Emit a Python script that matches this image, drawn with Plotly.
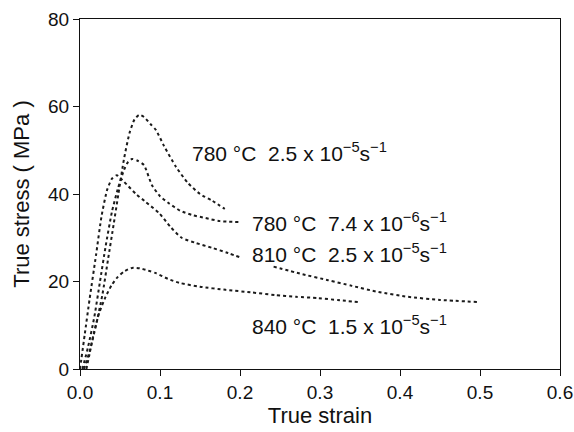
import plotly.graph_objects as go

# Curve data (true strain, true stress MPa)
c1_x = [0.005, 0.012, 0.02, 0.028, 0.035, 0.042, 0.048, 0.055, 0.062, 0.068, 0.074, 0.08, 0.088, 0.095, 0.105, 0.12, 0.135, 0.15, 0.165, 0.181]
c1_y = [0.0, 4.0, 10.0, 17.0, 25.0, 33.0, 40.0, 48.0, 54.0, 57.0, 58.1, 57.6, 56.0, 54.6, 51.0, 46.2, 42.5, 40.0, 38.5, 36.6]

c2_x = [0.003, 0.01, 0.018, 0.025, 0.032, 0.04, 0.047, 0.055, 0.06, 0.065, 0.072, 0.08, 0.09, 0.1, 0.111, 0.125, 0.14, 0.157, 0.175, 0.198]
c2_y = [0.0, 5.0, 12.0, 20.0, 28.0, 36.0, 41.0, 45.5, 47.3, 48.0, 47.6, 46.6, 42.0, 39.5, 37.9, 36.2, 35.2, 34.5, 33.8, 33.6]

c3_x = [0.0, 0.006, 0.012, 0.02, 0.027, 0.034, 0.04, 0.046, 0.055, 0.07, 0.082, 0.099, 0.113, 0.127, 0.145, 0.165, 0.185, 0.202, None, 0.242, 0.275, 0.31, 0.34, 0.373, 0.41, 0.45, 0.497]
c3_y = [0.0, 8.0, 16.0, 26.0, 35.0, 41.0, 43.5, 44.3, 42.8, 40.0, 38.2, 35.6, 32.5, 30.0, 28.8, 27.7, 26.5, 25.4, None, 23.4, 21.8, 20.3, 19.0, 17.6, 16.5, 15.8, 15.3]

c4_x = [0.008, 0.012, 0.017, 0.024, 0.032, 0.04, 0.047, 0.055, 0.065, 0.075, 0.085, 0.095, 0.11, 0.124, 0.15, 0.182, 0.215, 0.244, 0.27, 0.298, 0.325, 0.348]
c4_y = [0.0, 3.5, 8.0, 12.8, 16.5, 19.3, 21.0, 22.3, 23.1, 23.0, 22.5, 21.9, 20.6, 19.7, 18.8, 18.1, 17.5, 16.9, 16.5, 16.2, 15.7, 15.3]

series = [(c1_x, c1_y), (c2_x, c2_y), (c3_x, c3_y), (c4_x, c4_y)]

labels = [
    "780 °C  2.5 x 10<sup>−5</sup>s<sup>−1</sup>",
    "780 °C  7.4 x 10<sup>−6</sup>s<sup>−1</sup>",
    "810 °C  2.5 x 10<sup>−5</sup>s<sup>−1</sup>",
    "840 °C  1.5 x 10<sup>−5</sup>s<sup>−1</sup>",
]
label_x = [0.137, 0.212, 0.212, 0.212]
label_y = [49.6, 33.6, 26.5, 10.0]

x_ticks = [0, 0.1, 0.2, 0.3, 0.4, 0.5, 0.6]
x_ticktext = ["0.0", "0.1", "0.2", "0.3", "0.4", "0.5", "0.6"]
y_ticks = [0, 20, 40, 60, 80]

fig = go.Figure()
for xs, ys in series:
    fig.add_trace(go.Scatter(x=xs, y=ys, mode="lines",
                             line=dict(color="#1a1a1a", width=2, dash="dot", shape="spline", smoothing=0.6),
                             connectgaps=False, showlegend=False))

for t, lx, ly in zip(labels, label_x, label_y):
    fig.add_annotation(x=lx, y=ly, text=t, showarrow=False, xanchor="left", yanchor="middle",
                       font=dict(size=21, color="#111111"))

axis_common = dict(showline=True, linecolor="#111111", linewidth=1.2, mirror=True, ticks="outside",
                   ticklen=6, tickcolor="#111111", showgrid=False, zeroline=False, automargin=False,
                   tickfont=dict(size=19, color="#111111"))

fig.update_xaxes(range=[0, 0.6], tickvals=x_ticks, ticktext=x_ticktext,
                 title=dict(text="True strain", font=dict(size=22, color="#111111"), standoff=3), **axis_common)
fig.update_yaxes(range=[0, 80], tickvals=y_ticks,
                 title=dict(text="True stress ( MPa )", font=dict(size=22, color="#111111"), standoff=12), **axis_common)

fig.update_layout(width=574, height=432, margin=dict(l=80, r=14, t=19, b=63),
                  plot_bgcolor="white", paper_bgcolor="white",
                  font=dict(family="Liberation Sans, Arial, sans-serif", color="#111111"))

fig.write_html("out.html")
